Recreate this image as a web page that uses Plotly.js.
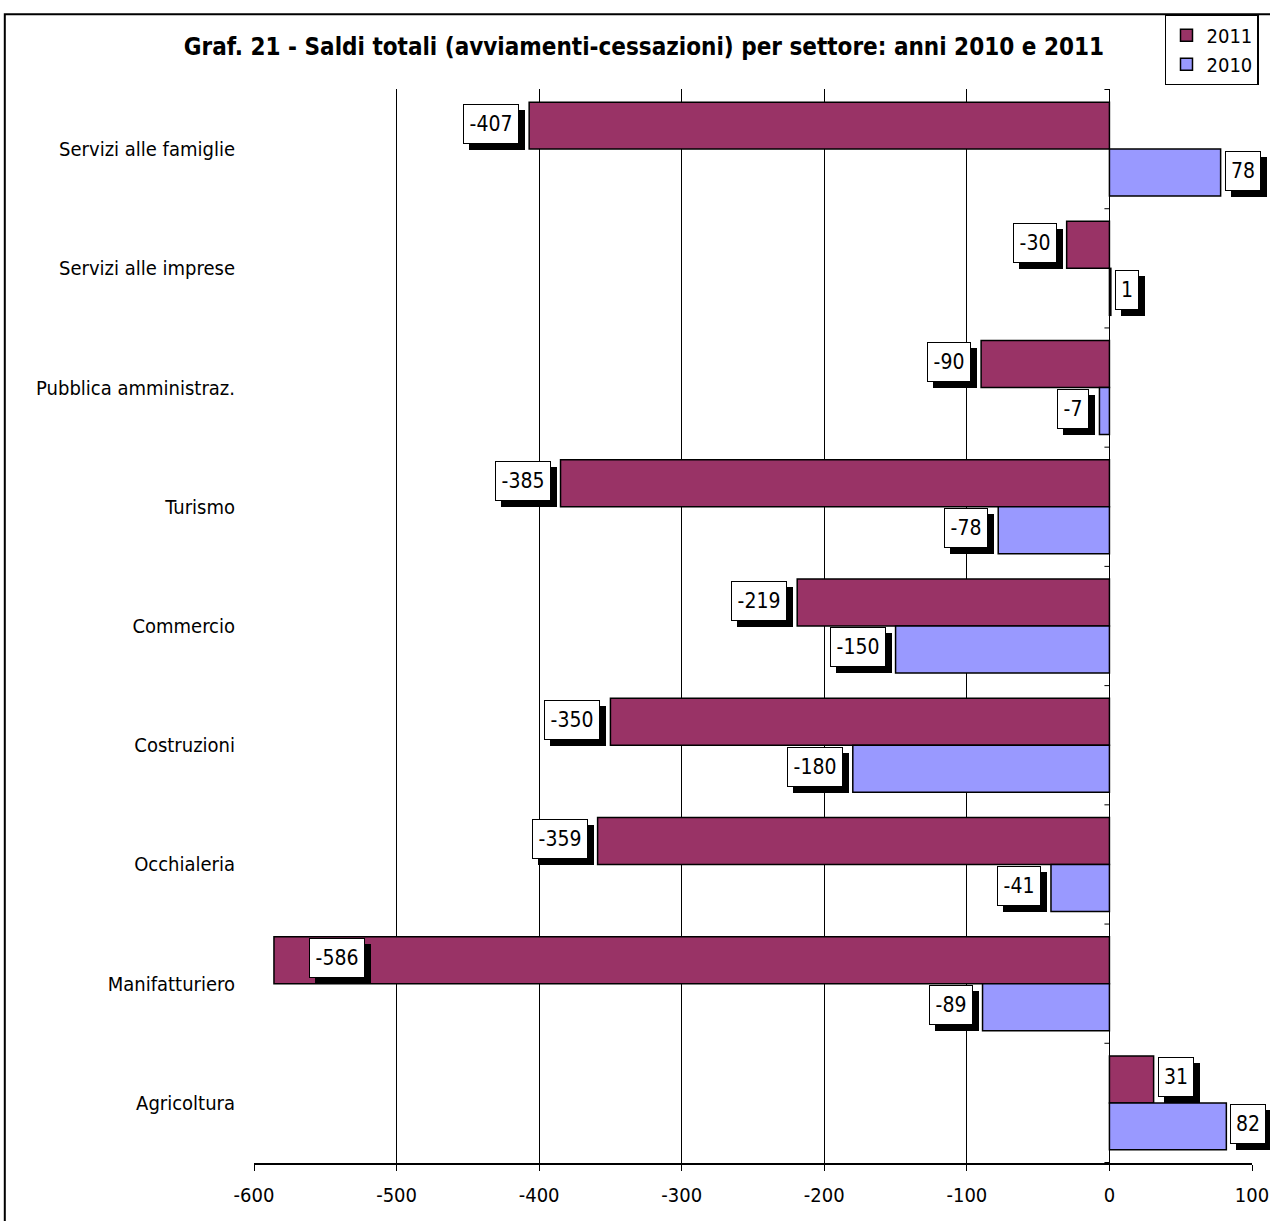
<!DOCTYPE html>
<html>
<head>
<meta charset="utf-8">
<script src="https://cdn.plot.ly/plotly-3.0.1.min.js"></script>
<style>html,body{margin:0;padding:0;background:#fff;}#chart{width:1270px;height:1221px;}</style>
</head>
<body>
<div id="chart"></div>
<script>
const categories = ["Servizi alle famiglie", "Servizi alle imprese", "Pubblica amministraz.", "Turismo", "Commercio", "Costruzioni", "Occhialeria", "Manifatturiero", "Agricoltura"];
const series2011 = [-407, -30, -90, -385, -219, -350, -359, -586, 31];
const series2010 = [78, 1, -7, -78, -150, -180, -41, -89, 82];
const seriesNames = ["2011", "2010"];
const xTicks = [-600, -500, -400, -300, -200, -100, 0, 100];
const titleText = "Graf. 21 - Saldi totali (avviamenti-cessazioni) per settore: anni 2010 e 2011";

const FONT = "DejaVu Sans Condensed, DejaVu Sans";
const colors = ["#993366", "#9999FF"];
const allSeries = [series2011, series2010];

const traces = allSeries.map((vals, k) => ({
  type: "bar",
  orientation: "h",
  name: seriesNames[k],
  y: categories,
  x: vals,
  marker: {color: colors[k], line: {color: "#000", width: 1.5}},
  hoverinfo: "none"
}));

const barOffset = 0.197;
const annotations = [];
allSeries.forEach((vals, k) => {
  const off = k === 0 ? -barOffset : barOffset;
  vals.forEach((v, i) => {
    let xanchor, xshift;
    if (v < -560) { xanchor = "left"; xshift = 35; }
    else if (v < 0) { xanchor = "right"; xshift = -10; }
    else { xanchor = "left"; xshift = 4; }
    const label = String(v);
    const nDigits = label.replace("-", "").length;
    const boxW = 2 + 12 * nDigits + (v < 0 ? 8 : 0);
    const base = {
      x: v, y: i + off, xref: "x", yref: "y", showarrow: false,
      xanchor: xanchor, yanchor: "middle", font: {family: FONT, size: 21, color: "#000"},
      borderpad: 4, width: boxW, height: 30, borderwidth: 1, align: "center"
    };
    annotations.push(Object.assign({}, base, {text: " ", xshift: xshift + 6, yshift: -4, bgcolor: "#000", bordercolor: "#000"}));
    annotations.push(Object.assign({}, base, {text: label, xshift: xshift, yshift: 2, bgcolor: "#fff", bordercolor: "#000"}));
  });
});

const shapes = [];
// outer chart border
shapes.push({type: "rect", xref: "paper", yref: "paper", x0: -0.2497, x1: 1.2, y0: -0.2, y1: 1.0695,
  line: {color: "#000", width: 2}, fillcolor: "rgba(0,0,0,0)", layer: "below"});
// small category boundary ticks on the vertical axis at zero
for (let i = 0; i <= categories.length; i++) {
  shapes.push({type: "line", xref: "x", yref: "y", xsizemode: "pixel", xanchor: 0, x0: -5, x1: 0,
    y0: i - 0.5, y1: i - 0.5, line: {color: "#000", width: 1}});
}

const layout = {
  width: 1270, height: 1221,
  margin: {l: 254, r: 17, t: 89.4, b: 58.4, pad: 0},
  paper_bgcolor: "#fff", plot_bgcolor: "#fff",
  font: {family: FONT, size: 20, color: "#000"},
  title: {text: "<b>" + titleText + "</b>", font: {family: FONT, size: 24, color: "#000"},
    x: 0.507, xanchor: "center", y: 1 - 47 / 1221, yanchor: "middle", xref: "container", yref: "container"},
  barmode: "group", bargap: 0.212, bargroupgap: 0,
  showlegend: true,
  legend: {x: 1.006, xanchor: "right", y: 1.0695, yanchor: "top", bgcolor: "#fff", bordercolor: "#000", borderwidth: 1.5,
    font: {family: FONT, size: 20, color: "#000"}, itemwidth: 30, tracegroupgap: 0},
  xaxis: {range: [-600, 100], tickvals: xTicks, ticktext: xTicks.map(String), showgrid: true, gridcolor: "#000", gridwidth: 1,
    zeroline: true, zerolinecolor: "#000", zerolinewidth: 1, showline: true, linecolor: "#000", linewidth: 2,
    ticks: "outside", ticklen: 6, tickcolor: "#000", tickwidth: 1, ticklabelstandoff: 7, fixedrange: true,
    tickfont: {family: FONT, size: 20, color: "#000"}},
  yaxis: {type: "category", autorange: "reversed", showgrid: false, zeroline: false, showline: false, ticks: "",
    ticklabelstandoff: 18, tickfont: {family: FONT, size: 20, color: "#000"}, fixedrange: true},
  annotations: annotations,
  shapes: shapes
};

Plotly.newPlot("chart", traces, layout, {staticPlot: true, displayModeBar: false});
</script>
</body>
</html>
